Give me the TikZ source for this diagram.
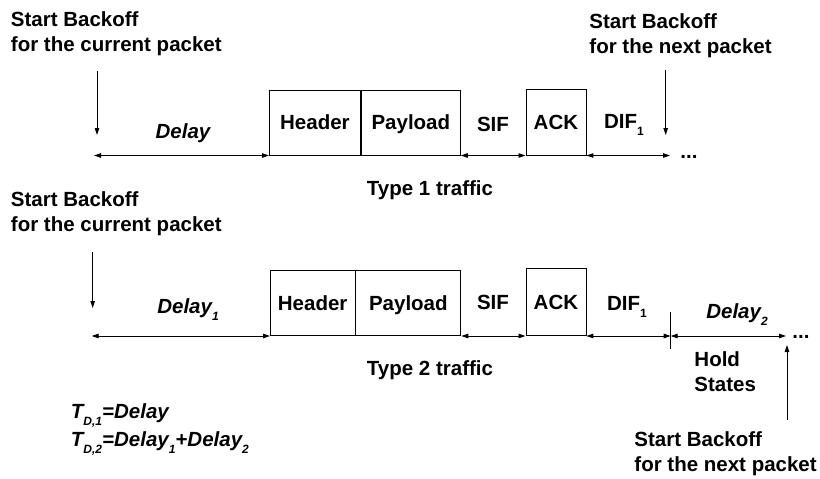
\documentclass[tikz,border=0pt]{standalone}
\usepackage{fontspec}
\setmainfont{Liberation Sans}
\usetikzlibrary{arrows.meta}
% small lowered index used in DIF_1, Delay_1, T_{D,1}
\newcommand{\lowsub}[1]{\raisebox{-7pt}{\fontsize{12}{12}\selectfont #1}}

\begin{document}
\begin{tikzpicture}[x=1pt,y=-1pt,line width=0.9pt,
  >={Triangle[length=7pt,width=4.5pt]},
  txt/.style={font=\fontsize{20.5}{25}\selectfont\bfseries,inner sep=0pt},
  itxt/.style={font=\fontsize{20.5}{25}\selectfont\bfseries\itshape,inner sep=0pt},
  cell/.style={draw,line width=0.9pt,inner sep=0pt,anchor=south west,
    text height=14.7pt,text depth=0pt,
    font=\fontsize{20.5}{25}\selectfont\bfseries}]
\useasboundingbox (0,0) rectangle (820,479);

% ---------- Type 1 traffic ----------
% (base of a two-line node = baseline of its last line)
\node[txt,anchor=base west,align=left] (sb1) at (10.5,51.7) {Start Backoff\\for the current packet};
\coordinate (a1s) at (97,71);
\coordinate (a1e) at (97,135);
\draw[->] (a1s) -- (a1e);

\node[cell,minimum width=91pt,minimum height=65pt] (hdr1) at (269,155.5) {Header};
\node[cell,minimum width=99pt,minimum height=65pt] (pay1) at (hdr1.south east) {Payload};
\node[cell,minimum width=60pt,minimum height=66pt] (ack1) at (525.5,155.5) {ACK};

\coordinate (l1) at (94,155.5);
\coordinate (r1) at (670,155.5);
\draw[<->] (l1) -- (hdr1.south west);
\draw[<->] (pay1.south east) -- (ack1.south west);
\draw[<->] (ack1.south east) -- (r1);

\node[itxt,anchor=base] (dl1) at (183,138) {Delay};
\node[txt,anchor=base] (sif1) at (493,131.5) {SIF};
\node[txt,anchor=base] (dif1) at (624,128) {DIF\lowsub{1}};
\node[txt,anchor=base west] (dots1) at (680,158) {...};

\node[txt,anchor=base west,align=left] (sb2) at (589,53) {Start Backoff\\for the next packet};
\coordinate (a2s) at (665.7,70);
\coordinate (a2e) at (665.7,135);
\draw[->] (a2s) -- (a2e);

\node[txt,anchor=base] (ty1) at (430,195) {Type 1 traffic};

% ---------- Type 2 traffic ----------
\node[txt,anchor=base west,align=left] (sb3) at (10.5,231.7) {Start Backoff\\for the current packet};
\coordinate (a3s) at (92.7,252);
\coordinate (a3e) at (92.7,308);
\draw[->] (a3s) -- (a3e);

\node[cell,minimum width=84.5pt,minimum height=65pt] (hdr2) at (270,336) {Header};
\node[cell,minimum width=105pt,minimum height=65pt] (pay2) at (hdr2.south east) {Payload};
\node[cell,minimum width=60pt,minimum height=67pt] (ack2) at (525.5,336) {ACK};

\coordinate (l2) at (91.7,336);
\coordinate (tk) at (670.7,336);
\coordinate (tkt) at (670.7,312);
\coordinate (tkb) at (670.7,349);
\coordinate (r2) at (786,336);
\draw[<->] (l2) -- (hdr2.south west);
\draw[<->] (pay2.south east) -- (ack2.south west);
\draw[<->] (ack2.south east) -- (tk);
\draw[<->] (tk) -- (r2);
\draw (tkt) -- (tkb);

\node[itxt,anchor=base] (dl2) at (188,313) {Delay\lowsub{1}};
\node[txt,anchor=base] (sif2) at (493,309.5) {SIF};
\node[txt,anchor=base] (dif2) at (627,310) {DIF\lowsub{1}};
\node[itxt,anchor=base] (dl3) at (737,318) {Delay\lowsub{2}};
\node[txt,anchor=base west] (dots2) at (792,338.5) {...};

\node[txt,anchor=base west,align=left] (hold) at (694,391.7) {Hold\\States};
\coordinate (a4s) at (787,420);
\coordinate (a4e) at (787,345);
\draw[->] (a4s) -- (a4e);
\node[txt,anchor=base west,align=left] (sb4) at (634,471.7) {Start Backoff\\for the next packet};

\node[txt,anchor=base] (ty2) at (430,375) {Type 2 traffic};

\node[itxt,anchor=base west,align=left,font=\fontsize{20.5}{28.4}\selectfont\bfseries\itshape] (td) at (70.5,446.7)
  {T\lowsub{D,1}=Delay\\T\lowsub{D,2}=Delay\lowsub{1}+Delay\lowsub{2}};
\end{tikzpicture}
\end{document}
